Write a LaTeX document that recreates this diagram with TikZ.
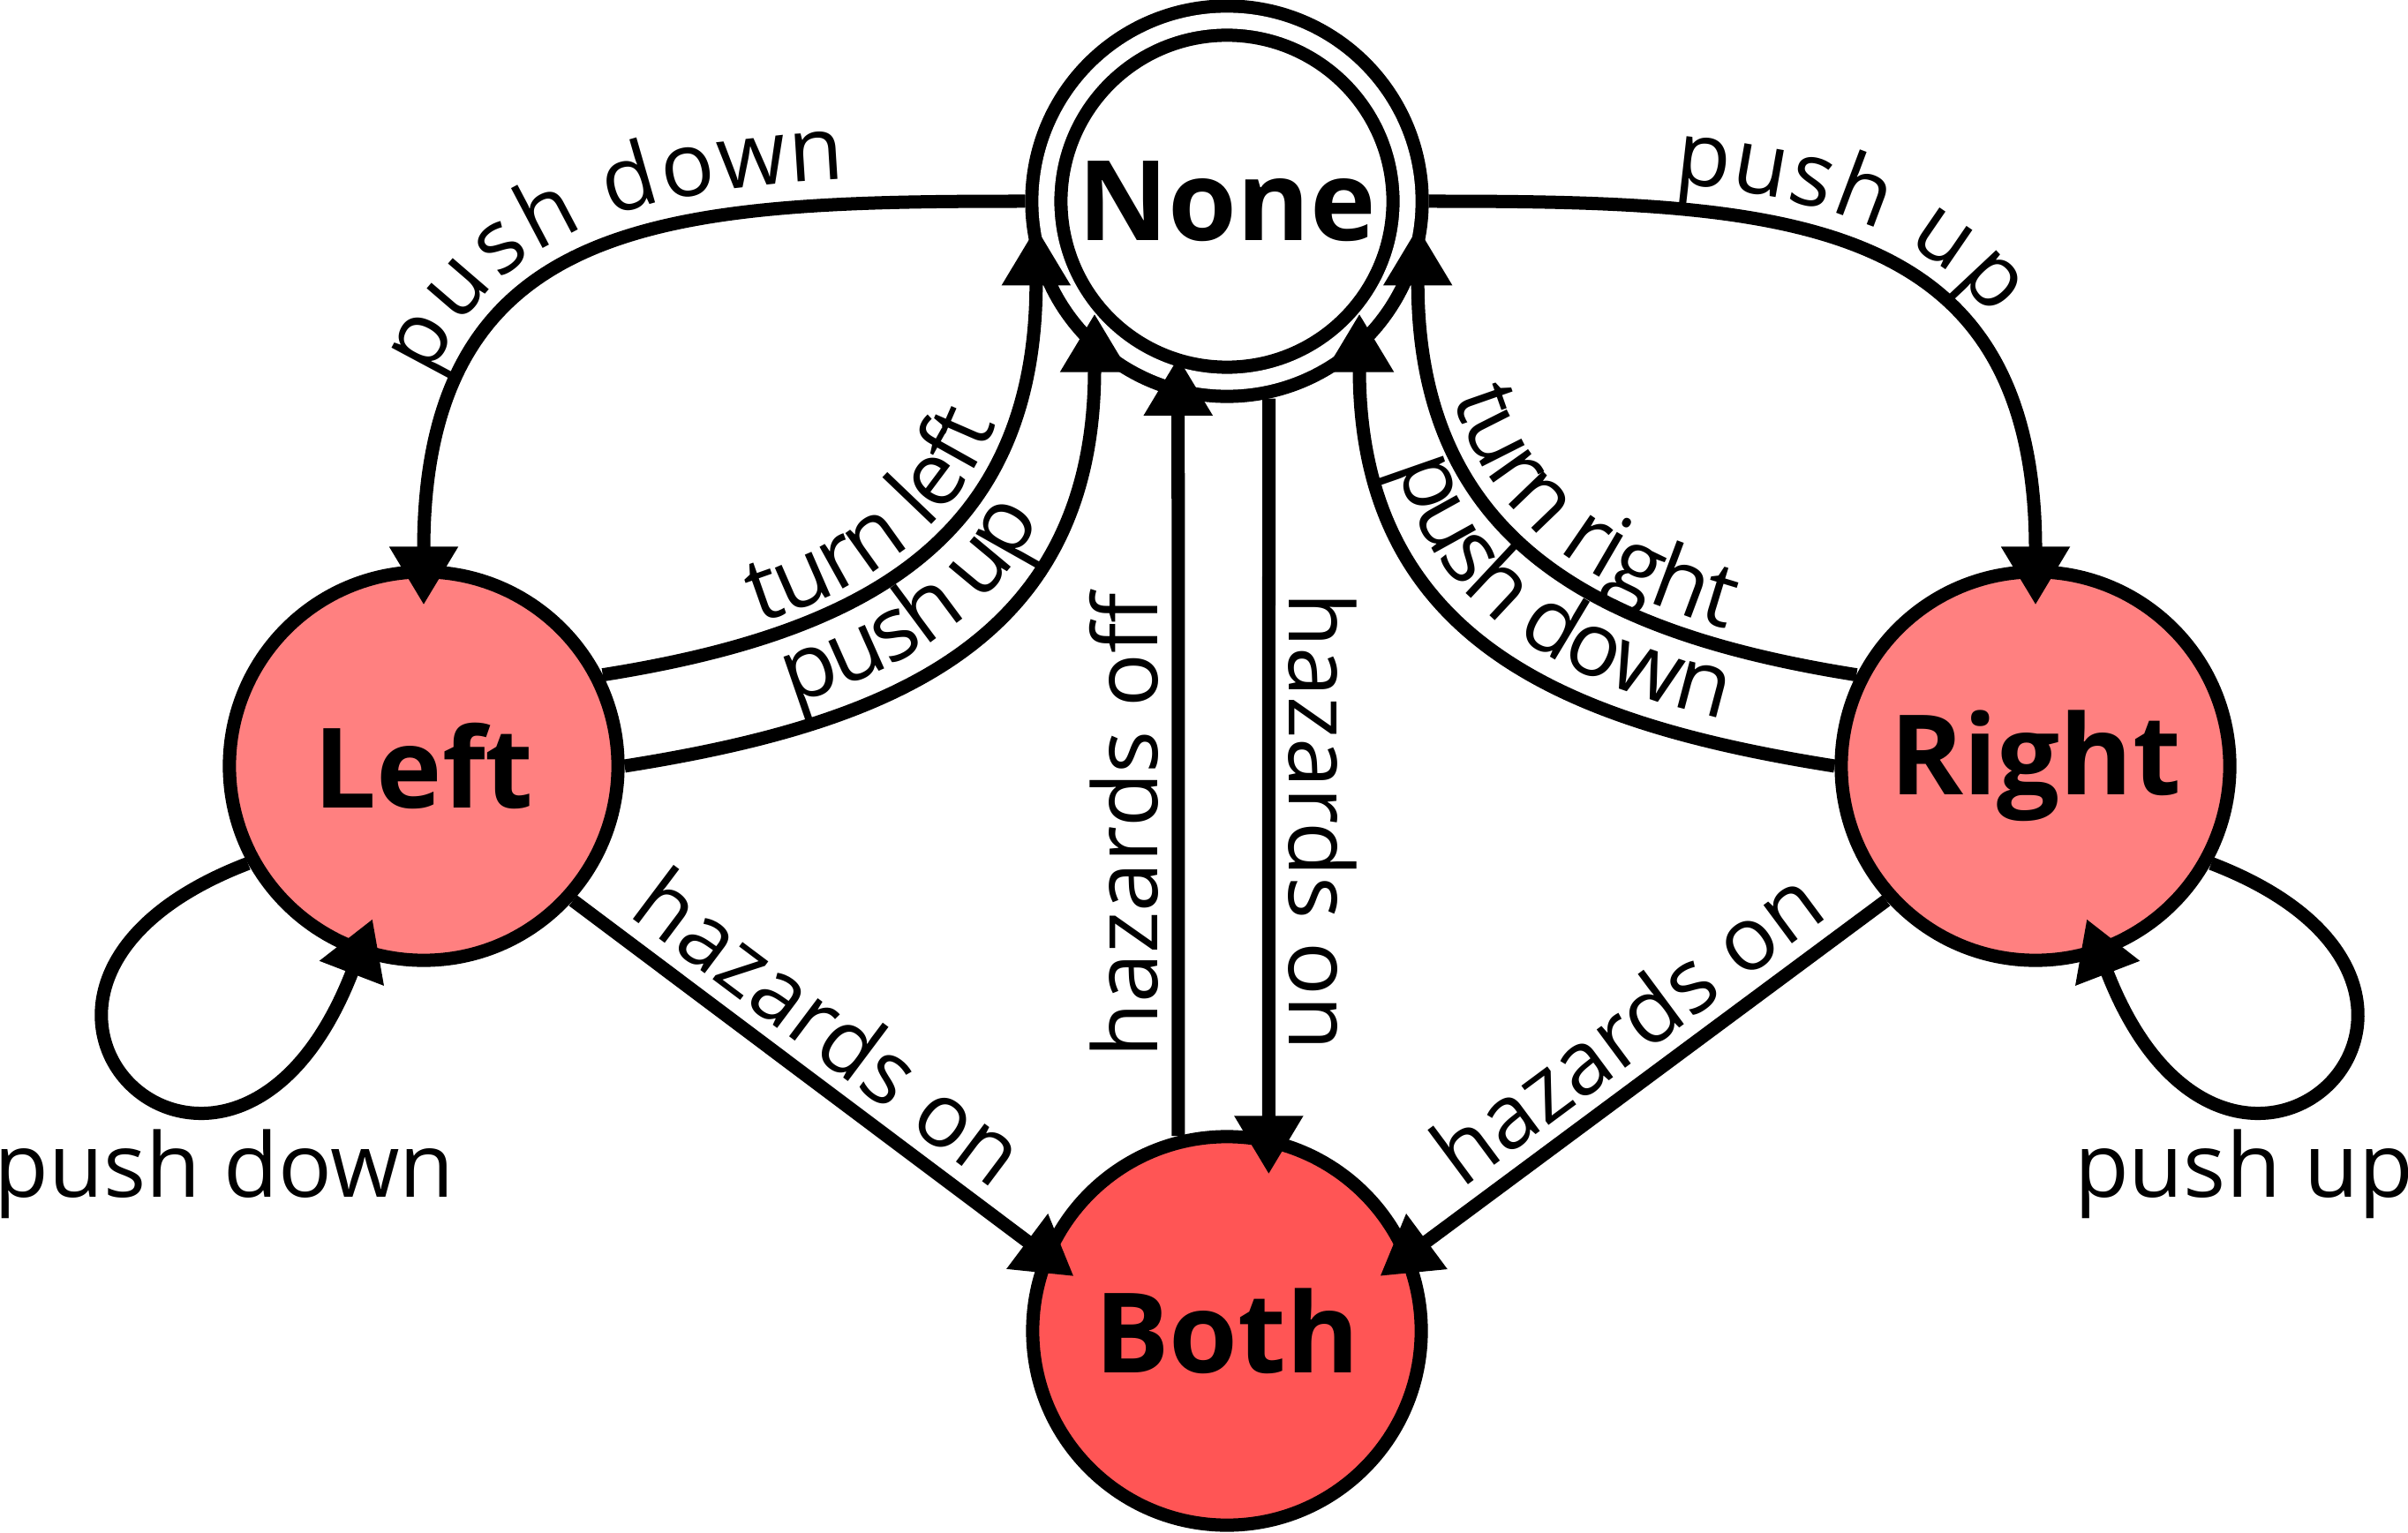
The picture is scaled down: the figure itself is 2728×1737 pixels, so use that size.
\documentclass[tikz,border=0pt]{standalone}
\usepackage{fontspec}
\setmainfont{Open Sans}
\usetikzlibrary{arrows.meta,decorations.text}
\definecolor{lred}{HTML}{FF8080}
\definecolor{dred}{HTML}{FF5555}
\newcommand{\lblfont}{\fontsize{28.7pt}{34pt}\selectfont}
\newcommand{\stfont}{\fontsize{35.8pt}{42pt}\selectfont\bfseries}

\begin{document}
\begin{tikzpicture}[x=0.01cm, y=0.01cm,
  stnode/.style={circle, draw, line width=0.15cm, minimum size=4.4cm, inner sep=0pt, font=\stfont},
  arr/.style={line width=0.15cm, -{Triangle[length=0.66cm, width=0.74cm]}, shorten >=-0.45cm},
  rarr/.style={line width=0.15cm, {Triangle[length=0.66cm, width=0.74cm]}-, shorten <=-0.45cm},
  lbl/.style={font=\lblfont, inner sep=0.15cm},
  curvelbl/.style 2 args={postaction={decorate},
    decoration={text along path, text={|\lblfont|#1}, text align=center, raise=#2}}]
  \path[use as bounding box, fill=white] (0,0) rectangle (2728,-1737);

  \node[stnode, fill=lred] (lft) at (480,-868) {Left};
  \node[stnode, fill=lred] (rgt) at (2306,-868) {Right};
  \node[stnode, fill=dred] (both) at (1390,-1508) {Both};
  \node[stnode, fill=white, double, double distance=0.18cm, minimum size=4.09cm,
    outer sep=0.24cm] (none) at (1390,-228) {None};

  % upper arcs
  \draw[rarr, curvelbl={push down}{0.28cm}] (lft.north) .. controls +(0,400) and +(-400,0) .. (none.west);
  \draw[arr, curvelbl={push up}{0.28cm}] (none.east) .. controls +(400,0) and +(0,400) .. (rgt.north);

  % inner arcs
  \draw[arr, curvelbl={turn left}{0.17cm}] (lft.27) .. controls +(296,47) and +(0,-310) .. (none.199);
  \draw[arr, curvelbl={push up}{0.28cm}] (lft.east) .. controls +(296,47) and +(0,-330) .. (none.229);
  \draw[rarr, curvelbl={turn right}{0.2cm}] (none.341) .. controls +(0,-310) and +(-296,47) .. (rgt.153);
  \draw[rarr, curvelbl={push down}{0.28cm}] (none.311) .. controls +(0,-330) and +(-296,47) .. (rgt.west);

  % hazards
  \draw[arr] (both.104) -- node[lbl, rotate=90, anchor=south, pos=0.42] {hazards off} (none.256);
  \draw[arr] (none.282) -- node[lbl, rotate=-90, anchor=south, pos=0.575] {hazards on} (both.78);
  \draw[arr] (lft.-42) -- node[lbl, sloped, above, pos=0.48] {hazards on} (both.157);
  \draw[arr] (rgt.222) -- node[lbl, sloped, above, pos=0.48] {hazards on} (both.23);

  % loops
  \draw[arr] (lft.209) .. controls +(-373,-143) and +(-146,-380) .. node[lbl, pos=0.7, below, inner sep=0.1cm, xshift=0.1cm, yshift=-0.07cm] {push down} (lft.251);
  \draw[arr] (rgt.331) .. controls +(373,-143) and +(146,-380) .. node[lbl, pos=0.7, below, inner sep=0.1cm, yshift=-0.07cm] {push up} (rgt.289);
\end{tikzpicture}
\end{document}
